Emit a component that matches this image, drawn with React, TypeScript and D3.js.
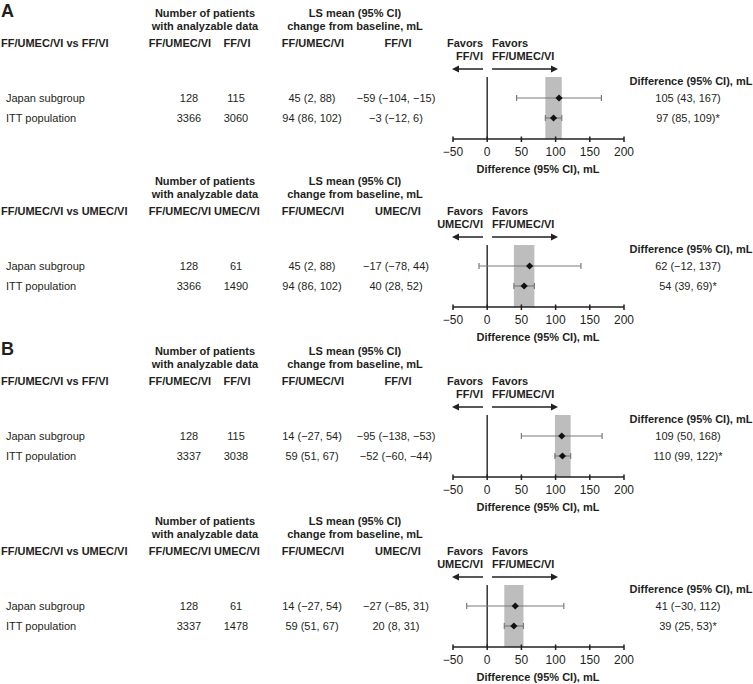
import React from "react";
import * as d3 from "d3";

const sectionLetters = ["A", "", "B", ""];
const comparators = ["FF/VI", "UMEC/VI", "FF/VI", "UMEC/VI"];
const tripleName = "FF/UMEC/VI";
const rowLabels = ["Japan subgroup", "ITT population"];
const nTriple = [[128, 3366], [128, 3366], [128, 3337], [128, 3337]];
const nComparator = [[115, 3060], [61, 1490], [115, 3038], [61, 1478]];
const lsTriple = [
  [[45, 2, 88], [94, 86, 102]],
  [[45, 2, 88], [94, 86, 102]],
  [[14, -27, 54], [59, 51, 67]],
  [[14, -27, 54], [59, 51, 67]],
];
const lsComparator = [
  [[-59, -104, -15], [-3, -12, 6]],
  [[-17, -78, 44], [40, 28, 52]],
  [[-95, -138, -53], [-52, -60, -44]],
  [[-27, -85, 31], [20, 8, 31]],
];
const differences = [
  [[105, 43, 167], [97, 85, 109]],
  [[62, -12, 137], [54, 39, 69]],
  [[109, 50, 168], [110, 99, 122]],
  [[41, -30, 112], [39, 25, 53]],
];
const significant = [
  [false, true],
  [false, true],
  [false, true],
  [false, true],
];
const xTicks = [-50, 0, 50, 100, 150, 200];
const axisTitle = "Difference (95% CI), mL";

const FONT = "'Liberation Sans', Arial, Helvetica, sans-serif";
const TXT = "#231f20";

const fmt = (n: number) => (n < 0 ? "\u2212" + Math.abs(n) : String(n));
const fmtCI = (v: number[]) => `${fmt(v[0])} (${fmt(v[1])}, ${fmt(v[2])})`;

const sectionY = [0, 168, 338, 508];

function Section({ i }: { i: number }) {
  const x = d3.scaleLinear().domain([-50, 200]).range([453, 624]);
  const oy = sectionY[i];
  const rowY = [98, 118];
  const axisY = 139;
  const topY = 77;
  const diamond = d3.symbol(d3.symbolSquare, 26)() as string;
  const itt = differences[i][1];
  const bold = { fontWeight: 700 } as const;
  return (
    <g transform={`translate(0,${oy})`} fontFamily={FONT} fontSize={11} fill={TXT}>
      {sectionLetters[i] && (
        <text x={1} y={16.5} fontSize={18} fontWeight={700}>
          {sectionLetters[i]}
        </text>
      )}
      <text x={205} y={17} textAnchor="middle" style={bold}>Number of patients</text>
      <text x={205} y={29.5} textAnchor="middle" style={bold}>with analyzable data</text>
      <text x={355} y={17} textAnchor="middle" style={bold}>LS mean (95% CI)</text>
      <text x={355} y={30} textAnchor="middle" style={bold}>change from baseline, mL</text>
      <text x={1} y={47} style={bold}>{`${tripleName} vs ${comparators[i]}`}</text>
      <text x={180} y={47} textAnchor="middle" style={bold}>{tripleName}</text>
      <text x={237} y={47} textAnchor="middle" style={bold}>{comparators[i]}</text>
      <text x={313} y={47} textAnchor="middle" style={bold}>{tripleName}</text>
      <text x={398} y={47} textAnchor="middle" style={bold}>{comparators[i]}</text>

      {rowLabels.map((lab, r) => (
        <g key={lab}>
          <text x={6} y={rowY[r] + 4}>{lab}</text>
          <text x={189} y={rowY[r] + 4} textAnchor="middle">{nTriple[i][r]}</text>
          <text x={236} y={rowY[r] + 4} textAnchor="middle">{nComparator[i][r]}</text>
          <text x={312} y={rowY[r] + 4} textAnchor="middle">{fmtCI(lsTriple[i][r])}</text>
          <text x={396} y={rowY[r] + 4} textAnchor="middle">{fmtCI(lsComparator[i][r])}</text>
          <text x={688} y={rowY[r] + 4} textAnchor="middle">
            {fmtCI(differences[i][r]) + (significant[i][r] ? "*" : "")}
          </text>
        </g>
      ))}
      <text x={691} y={85} textAnchor="middle" style={bold}>{axisTitle}</text>

      <text x={483} y={46.7} textAnchor="end" style={bold}>Favors</text>
      <text x={483} y={60} textAnchor="end" style={bold}>{comparators[i]}</text>
      <text x={492} y={46.7} style={bold}>Favors</text>
      <text x={492} y={60} style={bold}>{tripleName}</text>
      <line x1={483} x2={458} y1={69} y2={69} stroke={TXT} strokeWidth={1.5} />
      <path d={`M452,69 L459,65.5 L459,72.5 Z`} fill={TXT} />
      <line x1={492} x2={551} y1={69} y2={69} stroke={TXT} strokeWidth={1.5} />
      <path d={`M558,69 L551,65.5 L551,72.5 Z`} fill={TXT} />

      <rect x={x(itt[1])} y={topY} width={x(itt[2]) - x(itt[1])} height={axisY - topY} fill="#bdbdbd" />
      <line x1={x(0)} x2={x(0)} y1={topY} y2={axisY} stroke="#333" strokeWidth={1.5} />

      {differences[i].map((d, r) => (
        <g key={r}>
          <line x1={x(d[1])} x2={x(d[2])} y1={rowY[r]} y2={rowY[r]} stroke="#7a7a7a" strokeWidth={1.2} />
          <line x1={x(d[1])} x2={x(d[1])} y1={rowY[r] - 3} y2={rowY[r] + 3} stroke="#7a7a7a" strokeWidth={1.2} />
          <line x1={x(d[2])} x2={x(d[2])} y1={rowY[r] - 3} y2={rowY[r] + 3} stroke="#7a7a7a" strokeWidth={1.2} />
          <path d={diamond} transform={`translate(${x(d[0])},${rowY[r]}) rotate(45)`} fill="#111" />
        </g>
      ))}

      <line x1={x(-50)} x2={x(200)} y1={axisY} y2={axisY} stroke={TXT} strokeWidth={1.5} />
      {xTicks.map((t) => (
        <g key={t}>
          <line x1={x(t)} x2={x(t)} y1={axisY - 2.5} y2={axisY + 3} stroke={TXT} strokeWidth={1.5} />
          <text x={x(t)} y={axisY + 17} textAnchor="middle" fontSize={12}>{fmt(t)}</text>
        </g>
      ))}
      <text x={538} y={173} textAnchor="middle" style={bold}>{axisTitle}</text>
    </g>
  );
}

export default function App() {
  return (
    <svg
      width={753}
      height={684}
      viewBox="0 0 753 684"
      style={{ position: "absolute", left: 0, top: 0, background: "#fff" }}
    >
      <rect width={753} height={684} fill="#fff" />
      {[0, 1, 2, 3].map((i) => (
        <Section key={i} i={i} />
      ))}
    </svg>
  );
}
